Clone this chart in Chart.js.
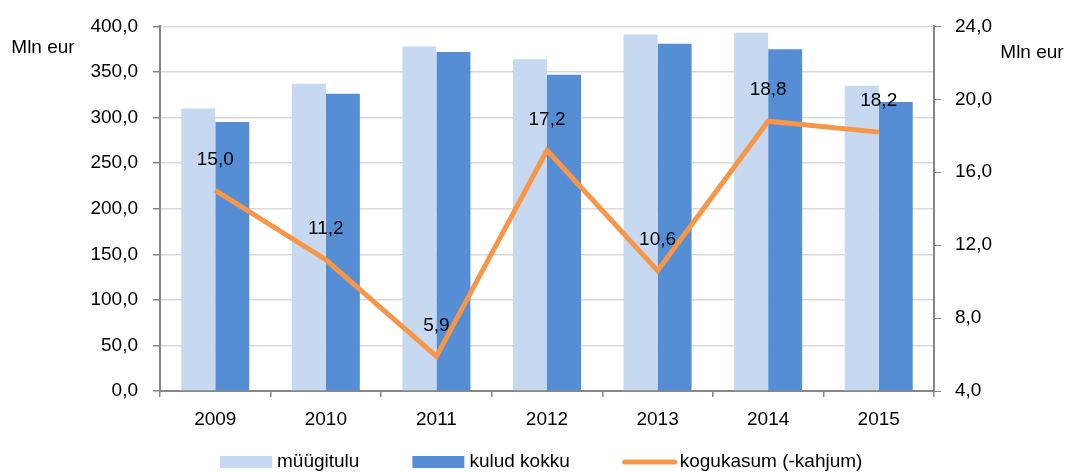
<!DOCTYPE html>
<html>
<head>
<meta charset="utf-8">
<script src="https://cdn.jsdelivr.net/npm/chart.js@4"></script>
<style>
  html, body { margin: 0; padding: 0; background: #fff; }
  #wrap { width: 1068px; height: 472px; position: relative; }
</style>
</head>
<body>
<div id="wrap"><canvas id="chart"></canvas></div>
<script>
// andmed
const aastad = ['2009', '2010', '2011', '2012', '2013', '2014', '2015'];
const myygitulu = [310, 337, 378, 364, 391, 393, 335];
const kuludKokku = [295, 326, 372, 347, 381, 375, 317];
const koguKasum = [15.0, 11.2, 5.9, 17.2, 10.6, 18.8, 18.2];

const fmt = v => Number(v).toFixed(1).replace('.', ',');
const FONT = 'Liberation Sans, Arial, sans-serif';
const FS = 19;

// "Mln eur", joone väärtused ja legend
const extraText = {
    id: 'extraText',
    afterDatasetsDraw(chart) {
        const ctx = chart.ctx;
        ctx.save();
        ctx.fillStyle = '#000';
        ctx.font = FS + 'px ' + FONT;
        ctx.textAlign = 'center';
        ctx.textBaseline = 'middle';
        ctx.fillText('Mln eur', 43, 48);
        ctx.fillText('Mln eur', 1032, 53);

        const meta = chart.getDatasetMeta(0);
        meta.data.forEach((pt, i) => {
            ctx.fillText(fmt(koguKasum[i]), pt.x, pt.y - 31);
        });
        ctx.restore();
    },
    afterDraw(chart) {
        const ctx = chart.ctx;
        const ds = chart.data.datasets;
        const items = [ds[1], ds[2], ds[0]];
        ctx.save();
        ctx.font = FS + 'px ' + FONT;
        ctx.textBaseline = 'middle';
        ctx.textAlign = 'left';
        let x = 220;
        const y = 462;
        items.forEach(d => {
            if (d.type === 'line') {
                ctx.strokeStyle = d.borderColor;
                ctx.lineWidth = 5;
                ctx.lineCap = 'round';
                ctx.beginPath();
                ctx.moveTo(x + 2, y);
                ctx.lineTo(x + 52, y);
                ctx.stroke();
            } else {
                ctx.fillStyle = d.backgroundColor;
                ctx.fillRect(x, y - 6, 52, 12);
            }
            ctx.fillStyle = '#000';
            ctx.fillText(d.label, x + 57, y);
            x += 57 + ctx.measureText(d.label).width + 53;
        });
        ctx.restore();
    }
};

new Chart(document.getElementById('chart').getContext('2d'), {
    data: {
        labels: aastad,
        datasets: [
            {
                type: 'line', label: 'kogukasum (-kahjum)', data: koguKasum, yAxisID: 'y1',
                borderColor: '#f79646', backgroundColor: '#f79646', borderWidth: 5,
                pointRadius: 0, tension: 0, order: 0
            },
            {
                type: 'bar', label: 'müügitulu', data: myygitulu, yAxisID: 'y',
                backgroundColor: '#c6d9f1', categoryPercentage: 0.615, barPercentage: 1, order: 1
            },
            {
                type: 'bar', label: 'kulud kokku', data: kuludKokku, yAxisID: 'y',
                backgroundColor: '#558ed5', categoryPercentage: 0.615, barPercentage: 1, order: 1
            }
        ]
    },
    options: {
        responsive: true,
        maintainAspectRatio: false,
        animation: false,
        layout: { padding: { top: 22, left: 0, right: 0, bottom: 36 } },
        plugins: {
            tooltip: { enabled: false },
            legend: { display: false }
        },
        scales: {
            x: {
                grid: { drawOnChartArea: false, drawTicks: true, tickLength: 6, color: '#868686', lineWidth: 1.5 },
                border: { color: '#868686', width: 2 },
                ticks: { color: '#000', font: { family: FONT, size: FS }, padding: 11 },
                afterFit(scale) { scale.height = 45; }
            },
            y: {
                position: 'left',
                min: 0, max: 400,
                ticks: { stepSize: 50, color: '#000', font: { family: FONT, size: FS }, padding: 15, callback: fmt },
                grid: { color: '#d9d9d9', tickColor: '#868686', tickLength: 7, lineWidth: 1.5 },
                border: { color: '#868686', width: 2 },
                afterFit(scale) { scale.width = 160; }
            },
            y1: {
                position: 'right',
                min: 4, max: 24,
                ticks: { stepSize: 4, color: '#000', font: { family: FONT, size: FS }, padding: 14, callback: fmt },
                grid: { drawOnChartArea: false, tickColor: '#868686', tickLength: 7 },
                border: { color: '#868686', width: 2 },
                afterFit(scale) { scale.width = 134; }
            }
        }
    },
    plugins: [extraText]
});
</script>
</body>
</html>
